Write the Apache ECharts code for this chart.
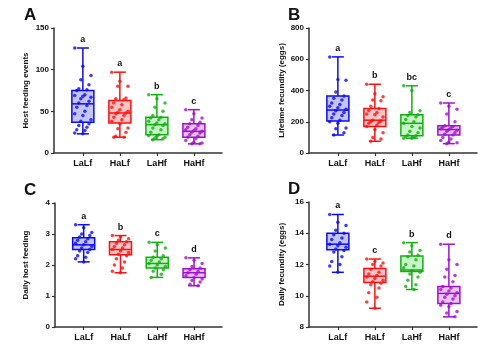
<!DOCTYPE html>
<html>
<head>
<meta charset="utf-8">
<script src="https://cdn.jsdelivr.net/npm/echarts@6/dist/echarts.min.js"></script>
<style>
  html, body { margin: 0; padding: 0; background: #fff; }
  #chart { width: 500px; height: 350px; }
</style>
</head>
<body>
<div id="chart"></div>
<script>
const categories = ['LaLf', 'HaLf', 'LaHf', 'HaHf']
const colors = ['#0a0aff', '#ff1010', '#10b010', '#a010d0']
const fills = ['#c4c4ff', '#ffc4c4', '#c8f5c8', '#ebc4f5']

// [min, Q1, median, Q3, max] per group
const feedBox = [[23, 37, 59, 75, 126], [19, 36, 48, 63, 97], [16, 22, 34, 43, 70], [11, 19, 26, 35, 52]]
const feedLetters = ['a', 'a', 'b', 'c']
const feedPts = [
  [126, 104, 93, 88, 82, 77, 76, 75, 70, 69, 68, 67, 65, 62, 60, 57, 55, 50, 47, 45, 40, 38, 35, 33, 31, 28, 27, 24, 23],
  [97, 86, 80, 80, 66, 65, 64, 60, 58, 55, 52, 50, 49, 48, 47, 45, 43, 40, 38, 35, 30, 29, 25, 20, 19, 19],
  [70, 65, 60, 55, 50, 45, 43, 42, 40, 38, 36, 35, 34, 33, 30, 28, 25, 22, 21, 20, 19, 18, 17, 16],
  [52, 47, 42, 40, 37, 35, 33, 31, 29, 28, 27, 26, 25, 24, 22, 20, 19, 17, 15, 13, 12, 11, 11]
]

const lifeBox = [[115, 205, 275, 365, 615], [75, 170, 210, 285, 440], [95, 110, 190, 245, 430], [60, 115, 150, 175, 320]]
const lifeLetters = ['a', 'b', 'bc', 'c']
const lifePts = [
  [615, 470, 465, 390, 365, 350, 340, 320, 310, 300, 290, 280, 270, 260, 250, 240, 225, 210, 200, 190, 160, 155, 130, 115],
  [440, 380, 360, 340, 335, 300, 285, 270, 260, 250, 245, 230, 210, 205, 200, 195, 190, 180, 170, 150, 130, 100, 90, 75],
  [430, 400, 270, 260, 245, 240, 230, 215, 200, 190, 170, 160, 140, 130, 115, 110, 105, 100, 95, 95],
  [320, 300, 280, 250, 200, 175, 170, 165, 160, 155, 150, 145, 140, 130, 120, 115, 100, 90, 80, 70, 65, 60]
]

const dailyFeedBox = [[2.1, 2.5, 2.65, 2.88, 3.3], [1.75, 2.33, 2.5, 2.75, 2.95], [1.6, 1.9, 2.05, 2.25, 2.73], [1.33, 1.6, 1.75, 1.88, 2.23]]
const dailyFeedLetters = ['a', 'b', 'c', 'd']
const dailyFeedPts = [
  [3.3, 3.2, 3.05, 3.0, 2.95, 2.9, 2.85, 2.8, 2.75, 2.7, 2.65, 2.6, 2.55, 2.5, 2.45, 2.4, 2.3, 2.25, 2.2, 2.1],
  [2.95, 2.9, 2.85, 2.8, 2.75, 2.7, 2.65, 2.6, 2.55, 2.5, 2.45, 2.4, 2.35, 2.3, 2.2, 2.1, 2.0, 1.9, 1.8, 1.75],
  [2.73, 2.65, 2.55, 2.45, 2.3, 2.25, 2.2, 2.15, 2.1, 2.05, 2.0, 1.95, 1.9, 1.85, 1.8, 1.7, 1.6],
  [2.23, 2.15, 2.05, 1.95, 1.9, 1.85, 1.8, 1.75, 1.7, 1.65, 1.6, 1.55, 1.5, 1.45, 1.38, 1.33]
]

const dailyFecBox = [[11.5, 12.95, 13.3, 14.0, 15.2], [9.2, 10.85, 11.25, 11.75, 12.35], [10.4, 11.55, 11.65, 12.55, 13.4], [8.65, 9.5, 10.15, 10.6, 13.3]]
const dailyFecLetters = ['a', 'c', 'b', 'd']
const dailyFecPts = [
  [15.2, 14.7, 14.5, 14.2, 14.0, 13.9, 13.7, 13.6, 13.4, 13.3, 13.2, 13.1, 13.0, 12.9, 12.8, 12.5, 12.2, 12.0, 11.9, 11.5],
  [12.35, 12.2, 12.1, 12.0, 11.9, 11.7, 11.5, 11.4, 11.3, 11.2, 11.1, 11.0, 10.9, 10.8, 10.7, 10.5, 10.2, 9.9, 9.6, 9.2],
  [13.4, 13.2, 12.9, 12.8, 12.6, 12.5, 12.3, 12.0, 11.9, 11.8, 11.6, 11.5, 11.4, 11.2, 11.0, 10.7, 10.6, 10.4],
  [13.3, 12.3, 12.0, 11.7, 11.3, 11.2, 10.9, 10.6, 10.5, 10.4, 10.3, 10.2, 10.1, 10.0, 9.9, 9.8, 9.6, 9.5, 9.4, 9.3, 9.0, 8.9, 8.65]
]

const panels = [
  { tag: 'A', name: 'Host feeding events', box: feedBox, pts: feedPts, letters: feedLetters, min: 0, max: 150, interval: 50,
    grid: { left: 54, top: 28, width: 168, height: 125 }, tagPos: { left: 24, top: 7 }, nameGap: 24 },
  { tag: 'B', name: 'Lifetime fecundity (eggs)', box: lifeBox, pts: lifePts, letters: lifeLetters, min: 0, max: 800, interval: 200,
    grid: { left: 309, top: 28, width: 168, height: 125 }, tagPos: { left: 288, top: 7 }, nameGap: 23 },
  { tag: 'C', name: 'Daily host feeding', box: dailyFeedBox, pts: dailyFeedPts, letters: dailyFeedLetters, min: 0, max: 4, interval: 1,
    grid: { left: 55, top: 203, width: 167, height: 124 }, tagPos: { left: 24, top: 182 }, nameGap: 25 },
  { tag: 'D', name: 'Daily fecundity (eggs)', box: dailyFecBox, pts: dailyFecPts, letters: dailyFecLetters, min: 8, max: 16, interval: 2,
    grid: { left: 309, top: 202, width: 168, height: 125 }, tagPos: { left: 288, top: 181 }, nameGap: 23 }
]

const font = 'Liberation Sans, Arial, sans-serif'
const axisLine = { show: true, onZero: false, lineStyle: { color: '#333', width: 1.5 } }

function boxRenderer(letters) {
  return function (params, api) {
    const i = api.value(0)
    const c = colors[i]
    const pMin = api.coord([i, api.value(1)])
    const pQ1 = api.coord([i, api.value(2)])
    const pMed = api.coord([i, api.value(3)])
    const pQ3 = api.coord([i, api.value(4)])
    const pMax = api.coord([i, api.value(5)])
    const x = pMed[0]
    const half = 11
    const cap = 6
    const st = { stroke: c, lineWidth: 1.5 }
    return {
      type: 'group',
      children: [
        { type: 'rect', shape: { x: x - half, y: pQ3[1], width: half * 2, height: pQ1[1] - pQ3[1] }, style: { fill: fills[i], stroke: c, lineWidth: 1.5 } },
        { type: 'line', shape: { x1: x, y1: pMax[1], x2: x, y2: pQ3[1] }, style: st },
        { type: 'line', shape: { x1: x, y1: pQ1[1], x2: x, y2: pMin[1] }, style: st },
        { type: 'line', shape: { x1: x - cap, y1: pMax[1], x2: x + cap, y2: pMax[1] }, style: st },
        { type: 'line', shape: { x1: x - cap, y1: pMin[1], x2: x + cap, y2: pMin[1] }, style: st },
        { type: 'line', shape: { x1: x - half, y1: pMed[1], x2: x + half, y2: pMed[1] }, style: st },
        { type: 'text', x: x, y: pMax[1] - 4, style: { text: letters[i], fill: '#111', font: 'bold 9px ' + font, textAlign: 'center', textVerticalAlign: 'bottom' } }
      ]
    }
  }
}

const option = {
  animation: false,
  title: panels.map((p) => ({ text: p.tag, left: p.tagPos.left, top: p.tagPos.top, padding: 0,
    textStyle: { fontSize: 17, fontWeight: 900, fontFamily: font, color: '#111' } })),
  grid: panels.map((p) => Object.assign({ outerBoundsMode: 'none' }, p.grid)),
  xAxis: panels.map((p, k) => ({
    type: 'value', gridIndex: k, min: -0.78, max: 3.76,
    splitLine: { show: false },
    axisLine: axisLine,
    axisTick: { show: true, length: 3, customValues: [0, 1, 2, 3], lineStyle: { color: '#333', width: 1.2 } },
    axisLabel: { customValues: [0, 1, 2, 3], formatter: (v) => categories[Math.round(v)] || '',
      fontSize: 9, fontWeight: 'bold', fontFamily: font, color: '#111', margin: 6 }
  })),
  yAxis: panels.map((p, k) => ({
    type: 'value', gridIndex: k, min: p.min, max: p.max, interval: p.interval,
    name: p.name, nameLocation: 'middle', nameGap: p.nameGap,
    nameTextStyle: { fontSize: 8, fontWeight: 'bold', fontFamily: font, color: '#111' },
    splitLine: { show: false },
    axisLine: axisLine,
    axisTick: { show: true, length: 3, lineStyle: { color: '#333', width: 1.2 } },
    axisLabel: { fontSize: 8, fontWeight: 'bold', fontFamily: font, color: '#111', margin: 5 }
  })),
  series: []
}

panels.forEach((p, k) => {
  option.series.push({
    type: 'custom', xAxisIndex: k, yAxisIndex: k, z: 2,
    renderItem: boxRenderer(p.letters),
    data: p.box.map((b, i) => [i].concat(b))
  })
  p.pts.forEach((vals, i) => {
    option.series.push({
      type: 'scatter', xAxisIndex: k, yAxisIndex: k, z: 3,
      symbol: 'circle', symbolSize: 3.5,
      itemStyle: { color: colors[i] },
      // spread the points sideways so they do not overlap
      data: vals.map((v, j) => [i + ((j * 4) % 9 - 4) * 0.055, v])
    })
  })
})

const chart = echarts.init(document.getElementById('chart'), null, { renderer: 'canvas' })
chart.setOption(option)
</script>
</body>
</html>
